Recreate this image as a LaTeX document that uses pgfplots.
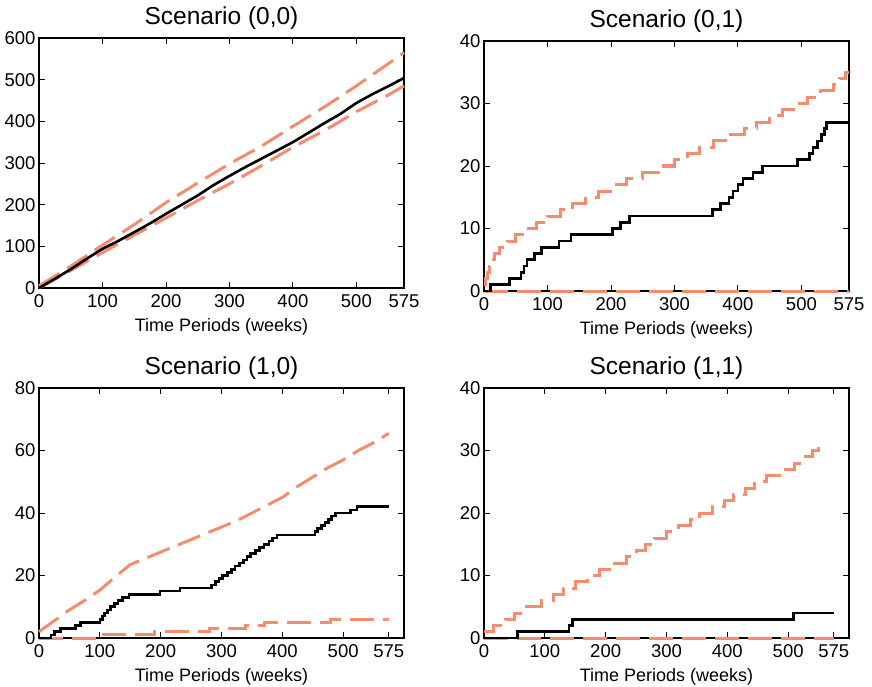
\documentclass[border=0pt]{standalone}
\usepackage{pgfplots}
\pgfplotsset{compat=1.18}
\usepackage{fontspec}
\setmainfont{Liberation Sans}
\definecolor{salmon}{RGB}{244,140,110}
\pgfplotsset{
  mystyle/.style={
    scale only axis, width=365pt, height=250pt,
    xmin=0, ymin=0,
    xtick={0,100,200,300,400,500,575},
    tick align=inside, major tick length=6pt,
    tick style={black, line width=0.9pt},
    axis line style={line width=1.1pt},
    /pgf/number format/assume math mode=true,
    tick label style={font=\fontsize{18.5}{21}\selectfont},
    xticklabel style={yshift=-3pt},
    xlabel={Time Periods (weeks)},
    xlabel style={font=\fontsize{18}{21}\selectfont, yshift=-4pt},
    title style={font=\fontsize{24.5}{27}\selectfont, yshift=-1pt},
    clip=false,
  },
  blk/.style={black, line width=2.6pt, const plot mark left},
  sal/.style={salmon, line width=3pt, dash pattern=on 24pt off 9pt},
}
\begin{document}
\begin{tikzpicture}
\path[use as bounding box] (-39pt,38pt) rectangle (833pt,-649pt);
% Scenario (0,0)
\begin{axis}[mystyle, at={(0pt,0pt)}, anchor=north west, xmax=575, ymax=600,
  ytick={0,100,200,300,400,500,600}, title={Scenario (0,0)}]
\addplot[sal] coordinates {(0,5) (50,52) (100,103) (150,152) (200,205) (250,252) (300,298) (350,340) (400,388) (450,435) (500,485) (550,538) (575,565)};
\addplot[sal] coordinates {(0,0) (50,42) (100,85) (150,127) (200,168) (250,210) (300,250) (350,293) (400,338) (450,378) (500,423) (550,463) (575,485)};
\addplot[black, line width=2.6pt] coordinates {(0,0) (25,22) (50,45) (75,70) (100,94) (125,113) (150,134) (175,155) (200,178) (225,200) (250,222) (275,247) (300,269) (325,290) (350,310) (375,330) (400,350) (425,373) (450,396) (475,418) (500,444) (525,465) (550,484) (575,504)};
\end{axis}
% Scenario (0,1)
\begin{axis}[mystyle, at={(445pt,-3pt)}, anchor=north west, xmax=575, ymax=40,
  ytick={0,10,20,30,40}, title={Scenario (0,1)}]
\addplot[sal, const plot mark left] coordinates {(0,1) (2,2) (5,3) (8,4) (12,5) (17,6) (25,7) (37,8) (50,9) (66,10) (83,11) (100,12) (120,13) (140,14) (160,15) (180,16) (200,17) (225,18) (250,19) (275,20) (300,21) (320,22) (340,23) (362,24) (388,25) (410,26) (430,27) (450,28) (470,29) (490,30) (510,31) (530,32) (550,33) (560,34) (570,35) (575,35)};
\addplot[sal] coordinates {(0,0) (575,0)};
\addplot[blk] coordinates {(0,0) (10,1) (40,2) (58,3) (63,4) (68,5) (80,6) (91,7) (118,8) (137,9) (202,10) (215,11) (229,12) (360,13) (373,14) (386,15) (392,16) (400,17) (408,18) (424,19) (439,20) (494,21) (513,22) (518,23) (525,24) (532,25) (536,26) (540,27) (575,27)};
\end{axis}
% Scenario (1,0)
\begin{axis}[mystyle, at={(0pt,-350pt)}, anchor=north west, xmax=600, ymax=80,
  ytick={0,20,40,60,80}, title={Scenario (1,0)}]
\addplot[sal] coordinates {(0,2) (25,5.5) (50,9) (75,12) (100,15.3) (125,19.5) (150,23.5) (175,25.5) (200,27.5) (225,29.5) (250,31.5) (275,33.5) (300,35.5) (325,37.5) (350,40) (375,42.5) (400,45) (425,48.5) (450,51.5) (475,54.5) (500,57) (525,60) (550,62.5) (575,65.5)};
\addplot[sal, const plot mark left] coordinates {(0,0) (100,1) (190,2) (280,3) (340,4) (370,5) (480,6) (575,6)};
\addplot[blk] coordinates {(0,0) (20,1) (25,2) (35,3) (60,4) (68,5) (100,6) (104,7) (108,8) (113,9) (118,10) (124,11) (130,12) (137,13) (148,14) (199,15) (232,16) (284,17) (290,18) (296,19) (302,20) (310,21) (316,22) (322,23) (330,24) (336,25) (342,26) (348,27) (356,28) (362,29) (370,30) (378,31) (384,32) (391,33) (454,34) (458,35) (464,36) (470,37) (476,38) (481,39) (487,40) (512,41) (523,42) (575,42)};
\end{axis}
% Scenario (1,1)
\begin{axis}[mystyle, at={(445pt,-350pt)}, anchor=north west, xmax=600, ymax=40,
  ytick={0,10,20,30,40}, title={Scenario (1,1)}]
\addplot[sal, const plot mark left] coordinates {(0,1) (15,2) (35,3) (50,4) (70,5) (95,6) (115,7) (130,8) (150,9) (170,10) (190,11) (215,12) (235,13) (250,14) (265,15) (280,16) (300,17) (320,18) (340,19) (355,20) (375,21) (395,22) (410,23) (430,24) (445,25) (465,26) (490,27) (510,28) (525,29) (540,30) (550,31) (555,31)};
\addplot[sal] coordinates {(0,0) (575,0)};
\addplot[blk] coordinates {(0,0) (55,1) (140,2) (145,3) (509,4) (575,4)};
\end{axis}
\end{tikzpicture}
\end{document}
